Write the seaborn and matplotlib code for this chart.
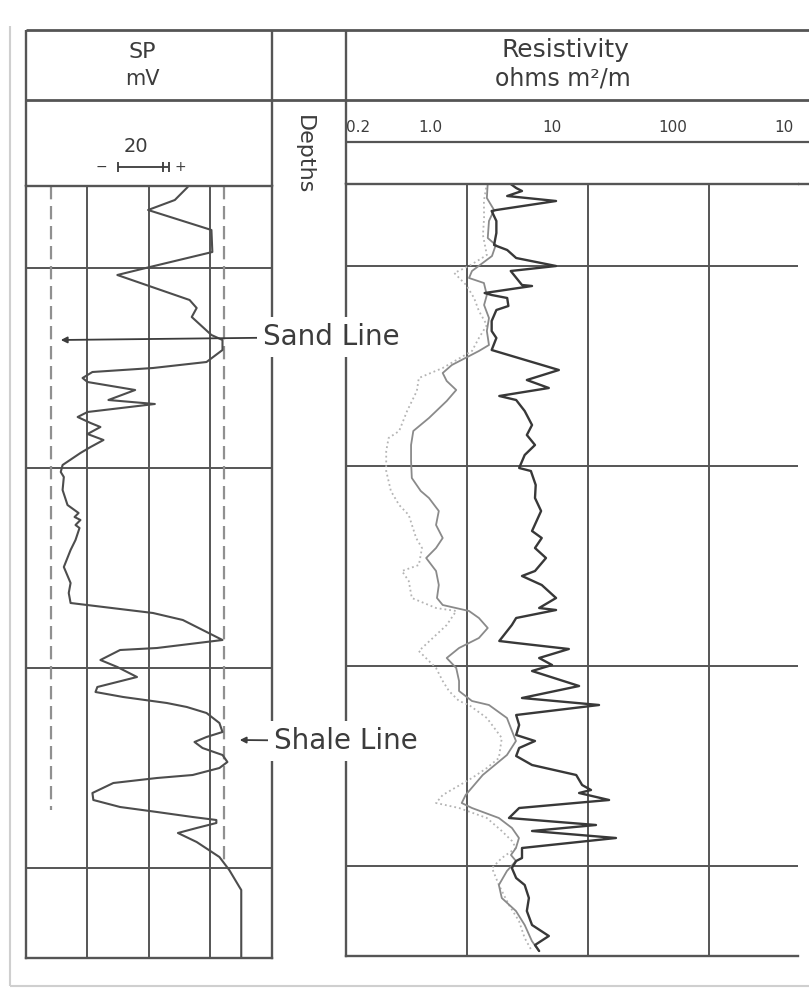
import matplotlib
matplotlib.use("Agg")
import matplotlib.pyplot as plt
from matplotlib.ticker import NullLocator
import seaborn as sns

# Figure size in pixels
W, H = 809, 991

# Depth axis (log depth units)
depth_top = 59
depth_bottom = 445
depth_lines = [100, 200, 300, 400]

# SP track, mV (four 20 mV divisions)
sp_min, sp_max = 0, 80
sp_grid = [20, 40, 60]
sand_line_mv = 8
sand_line_end = 371
shale_line_mv = 64.5
shale_line_end = 398

sp_depth = [59.5, 66, 71, 81, 92, 99.5, 103.5, 116, 120, 124.5, 133.5, 136, 141,
            147, 150, 152, 155, 157, 161, 166, 168, 172, 174.5, 177.5, 179.5, 183,
            186, 189.5, 192.5, 198.5, 202, 204.5, 211, 218.5, 222.5, 224.5, 226,
            228.5, 230, 236, 241, 249.5, 257.5, 262.5, 267.5, 272.5, 276, 286, 290,
            291, 296, 299.5, 304.5, 309.5, 312, 314.5, 317.5, 319.5, 322.5, 327.5,
            332, 334.5, 337, 340, 343.5, 347, 350, 353.5, 355, 357.5, 362.5, 366,
            369.5, 372, 374.5, 376, 377.5, 380, 382.5, 387, 394.5, 401, 409.5, 411,
            444.5]
sp_mv = [52.6, 48.4, 39.7, 60.3, 60.6, 40.3, 29.7, 53.2, 55.5, 53.9, 60.3, 63.9, 63.9,
         58.7, 41.3, 21.6, 18.4, 20.0, 35.5, 26.8, 41.9, 20.0, 16.8, 21.0, 24.2, 20.0,
         25.2, 21.0, 17.7, 11.9, 11.3, 12.3, 11.9, 13.5, 17.1, 15.8, 17.7,
         16.1, 17.4, 16.1, 14.5, 12.3, 14.5, 13.9, 14.5, 41.3, 51.0, 63.9, 42.6,
         30.6, 24.2, 29.7, 36.1, 23.2, 22.6, 31.6, 45.8, 52.3, 58.7, 62.9,
         63.9, 58.7, 54.8, 57.4, 63.9, 65.5, 62.9, 54.2, 42.6, 28.4, 21.6, 21.9,
         30.6, 42.6, 54.2, 61.9, 61.9, 55.5, 49.4, 55.5, 62.9, 66.1, 69.4, 70.0,
         70.0]

# Resistivity track, ohm m2/m (log scale)
res_min, res_max = 0.2, 1090
res_grid = [2, 20, 200]
res_scale_ticks = [1, 10, 100]
res_scale_values = [0.2, 1.0, 10, 100, 1000]
res_scale_labels = ["0.2", "1.0", "10", "100", "10"]

deep_depth = [59, 61, 62.5, 65, 67.5, 72, 72.5, 77.5, 83.5, 89.5, 92, 96, 100, 102.5,
              109.5, 110, 113.5, 114.5, 116, 120, 122, 127.5, 132.5, 136, 142, 152,
              157, 161, 165, 167, 172.5, 179.5, 184.5, 189.5, 194.5, 201, 202.5,
              209.5, 216, 222.5, 232.5, 236, 241, 246, 252.5, 255, 259.5, 266, 271,
              272, 276, 279.5, 287.5, 288.5, 291.5, 296, 299.5, 302.5, 310, 316,
              319.5, 324.5, 329.5, 334.5, 337.5, 341, 345, 349.5, 354.5, 359.5, 362,
              363.5, 367, 371, 376, 379.5, 382.5, 386, 391, 396, 397.5, 401, 406,
              409.5, 416, 422.5, 429.5, 435, 439.5, 442.5]
deep_res = [4.6, 5.1, 5.7, 4.3, 10.9, 3.5, 3.2, 3.5, 3.5, 3.35, 4.3, 5.1, 10.9, 4.6,
            5.7, 6.9, 2.8, 3.2, 4.3, 4.4, 3.5, 3.2, 3.2, 3.5, 3.2, 11.5,
            6.25, 9.5, 3.7, 5.1, 6.0, 6.9, 6.25, 7.3, 6.0, 5.4, 6.75,
            7.4, 7.3, 8.2, 6.9, 8.3, 7.3, 9.0, 7.3, 5.7, 8.3, 10.9, 7.9,
            10.9, 5.1, 4.7, 3.7, 5.1, 13.9, 7.9, 10.1, 6.9, 16.9, 5.7,
            24.7, 5.1, 5.4, 5.1, 7.3, 5.4, 5.1, 6.9, 16.0, 17.9, 21.2,
            16.9, 29.9, 5.4, 4.45, 23.3, 6.9, 34.1, 5.7, 5.7, 5.1, 4.7, 5.1,
            6.0, 6.5, 6.25, 6.9, 9.5, 7.3, 7.9]

medium_depth = [58.5, 66, 72, 77.5, 86, 89.5, 95, 102.5, 106, 108.5, 114.5, 119.5, 126,
                132.5, 139.5, 142.5, 149.5, 153.5, 157.5, 162, 167.5, 176, 182.5,
                189.5, 197.5, 206, 212.5, 216, 222.5, 229.5, 236, 241, 246, 252.5,
                259.5, 266, 269.5, 272.5, 276, 281, 286, 291, 296, 301, 307.5, 312.5,
                317.5, 319.5, 326, 332.5, 337.5, 344.5, 354.5, 364.5, 368.5, 371, 376,
                381, 386, 391, 394.5, 397.5, 402.5, 409.5, 416, 422.5, 429.5, 437.5,
                442.5]
medium_res = [2.97, 2.92, 3.35, 3.04, 2.97, 3.46, 3.22, 2.2, 2.08, 2.76, 2.92, 2.77, 3.04,
              2.92, 3.04, 2.51, 1.5, 1.26, 1.36, 1.63, 1.36, 0.97, 0.72,
              0.69, 0.69, 0.70, 0.83, 0.97, 1.17, 1.11, 1.26, 1.11, 0.92, 1.11,
              1.17, 1.13, 1.26, 2.08, 2.51, 2.97, 2.51, 1.72, 1.36, 1.63, 1.72, 1.72,
              2.2, 3.04, 4.28, 4.71, 5.08, 4.28, 2.7, 1.95, 1.81, 2.2, 3.67,
              4.71, 5.38, 5.08, 4.62, 5.08, 4.28, 3.67, 3.88, 5.08, 6.0, 6.88,
              7.87]

shallow_depth = [58.5, 67.5, 76, 84.5, 94.5, 100, 103.5, 109.5, 116, 122.5, 129.5, 136,
                 142.5, 151, 156, 162.5, 172.5, 182.5, 186, 192.5, 202.5, 212.5, 219.5,
                 224.5, 236, 241, 249.5, 252.5, 257.5, 266, 271, 272.5, 279.5, 292.5,
                 301, 307.5, 312.5, 317.5, 319.5, 326, 336, 346, 351, 356, 364.5, 368.5,
                 371, 376, 382.5, 387.5, 391, 396, 401, 409.5, 419.5, 427.5, 436, 442.5]
shallow_res = [2.92, 2.76, 2.77, 2.71, 2.92, 2.08, 1.57, 1.97, 2.29, 2.51, 2.92, 2.51,
               2.2, 1.26, 0.80, 0.77, 0.64, 0.55, 0.45, 0.43, 0.43, 0.47, 0.55,
               0.66, 0.76, 0.85, 0.80, 0.58, 0.66, 0.70, 1.11, 1.63, 1.36, 0.80,
               1.11, 1.26, 1.42, 1.72, 2.08, 2.92, 3.88, 3.67, 2.92, 2.2, 1.26, 1.11,
               1.72, 2.92, 3.88, 4.71, 5.08, 3.88, 3.22, 3.67, 4.45, 5.38, 6.0, 6.88]

# Annotation anchors (SP units, depth)
sand_arrow = (11.3, 136)
shale_arrow = (69.5, 336)

LINE = "#555555"
INK = "#3c3c3c"

sns.set_style("white")
plt.rcParams["font.family"] = ["DejaVu Sans"]


def px_box(x0, y0, x1, y1):
    return [x0 / W, 1 - y1 / H, (x1 - x0) / W, (y1 - y0) / H]


def style_track(ax):
    ax.set_ylim(depth_bottom, depth_top)
    ax.set_yticks(depth_lines)
    ax.xaxis.set_minor_locator(NullLocator())
    ax.grid(True, which="major", color=LINE, lw=1.4)
    ax.tick_params(length=0, labelbottom=False, labelleft=False)
    for s in ax.spines.values():
        s.set_color(LINE)
        s.set_linewidth(1.7)
    ax.set_xlabel("")
    ax.set_ylabel("")


fig = plt.figure(figsize=(W / 100, H / 100), dpi=100)
fig.patch.set_facecolor("white")

# SP track
ax_sp = fig.add_axes(px_box(26, 186, 272, 958))
ax_sp.set_xlim(sp_min, sp_max)
ax_sp.set_xticks(sp_grid)
style_track(ax_sp)
ax_sp.vlines(sand_line_mv, depth_top, sand_line_end, colors="#909090",
             linestyles=(0, (6, 3)), lw=1.6)
ax_sp.vlines(shale_line_mv, depth_top, shale_line_end, colors="#909090",
             linestyles=(0, (6, 3)), lw=1.6)
sns.lineplot(x=sp_mv, y=sp_depth, sort=False, estimator=None, color="#4d4d4d",
             lw=1.5, ax=ax_sp)
style_track(ax_sp)

# Resistivity track
ax_res = fig.add_axes(px_box(346, 184, 798, 956))
ax_res.set_xscale("log")
ax_res.set_xlim(res_min, res_max)
ax_res.set_xticks(res_grid)
sns.lineplot(x=shallow_res, y=shallow_depth, sort=False, estimator=None,
             color="#b4b4b4", lw=1.3, ls=":", ax=ax_res)
sns.lineplot(x=medium_res, y=medium_depth, sort=False, estimator=None,
             color="#8a8a8a", lw=1.3, ax=ax_res)
sns.lineplot(x=deep_res, y=deep_depth, sort=False, estimator=None,
             color="#383838", lw=1.7, ax=ax_res)
ax_res.set_xlim(res_min, res_max)
style_track(ax_res)
ax_res.spines["right"].set_visible(False)

# Resistivity scale row in the header
ax_scale = fig.add_axes(px_box(346, 100, 798, 142))
ax_scale.set_xscale("log")
ax_scale.set_xlim(res_min, res_max)
ax_scale.set_xticks(res_scale_ticks)
ax_scale.xaxis.set_minor_locator(NullLocator())
ax_scale.set_yticks([])
ax_scale.tick_params(axis="x", direction="out", length=9, width=1.4, color=LINE,
                     labelbottom=False)
for s in ax_scale.spines.values():
    s.set_visible(False)
ax_scale.patch.set_alpha(0)
for v, lab in zip(res_scale_values, res_scale_labels):
    ha = "left" if v == res_min else ("right" if v == res_scale_values[-1] else "center")
    ax_scale.text(v, 0.34, lab, transform=ax_scale.get_xaxis_transform(),
                  ha=ha, va="center", fontsize=11, color=INK)

# Overlay in pixel coordinates: header frame, titles, annotations
ax_o = fig.add_axes([0, 0, 1, 1], zorder=10)
ax_o.set_xlim(0, W)
ax_o.set_ylim(H, 0)
ax_o.axis("off")

# light outer frame of the scan
ax_o.vlines(10, 26, 986, colors="#cfcfcf", lw=1.5)
ax_o.hlines(986, 10, W, colors="#cfcfcf", lw=1.5)

ax_o.hlines([30, 100], 26, W, colors=LINE, lw=2.0)
ax_o.hlines(142, 346, W, colors=LINE, lw=1.6)
ax_o.hlines(184, 798, W, colors=LINE, lw=1.7)
ax_o.vlines([26, 272], 30, 186, colors=LINE, lw=1.7)
ax_o.vlines(346, 30, 184, colors=LINE, lw=1.7)

ax_o.text(142, 52, "SP", ha="center", va="center", fontsize=16, color=INK)
ax_o.text(142, 79, "mV", ha="center", va="center", fontsize=15, color=INK)
ax_o.text(565, 50, "Resistivity", ha="center", va="center", fontsize=18, color=INK)
ax_o.text(563, 79, "ohms m²/m", ha="center", va="center", fontsize=17, color=INK)
ax_o.text(304, 155, "Depths", ha="center", va="center", rotation=-90,
          fontsize=16, color=INK)

# SP scale bar (20 mV)
ax_o.text(136, 146, "20", ha="center", va="center", fontsize=14, color=INK)
ax_o.hlines(167, 118, 168, colors=INK, lw=1.3)
ax_o.vlines([118, 163, 169], 162, 172, colors=INK, lw=1.3)
ax_o.text(101, 167, "\u2212", ha="center", va="center", fontsize=10, color=INK)
ax_o.text(180, 167, "+", ha="center", va="center", fontsize=10, color=INK)

arrow = dict(arrowstyle="-|>", color=INK, lw=1.3, mutation_scale=9,
             shrinkA=0, shrinkB=0)
box = dict(boxstyle="square,pad=0.2", fc="white", ec="none")
ax_o.annotate("Sand Line", xy=sand_arrow, xycoords=ax_sp.transData,
              xytext=(263, 337), textcoords="data", ha="left", va="center",
              fontsize=20, color=INK, bbox=box, arrowprops=arrow)
ax_o.annotate("Shale Line", xy=shale_arrow, xycoords=ax_sp.transData,
              xytext=(274, 741), textcoords="data", ha="left", va="center",
              fontsize=20, color=INK, bbox=box, arrowprops=arrow)

fig.savefig("out.png", dpi=100)
